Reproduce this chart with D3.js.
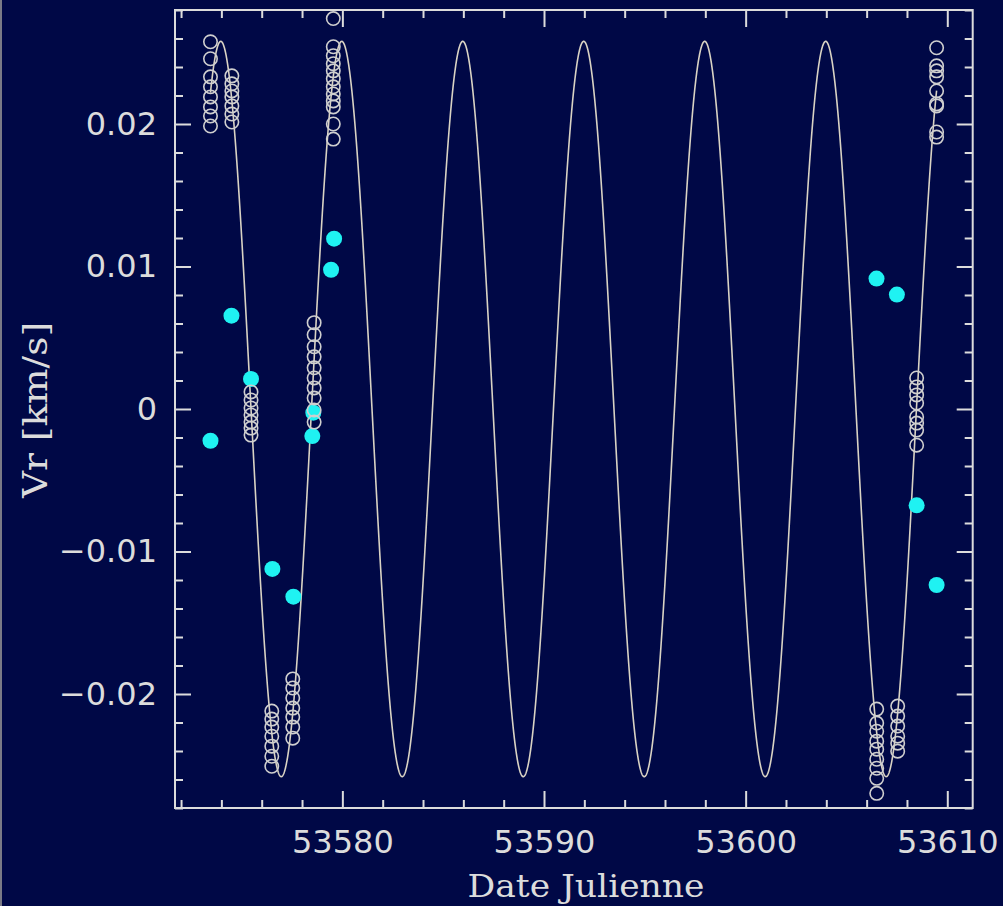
<!DOCTYPE html>
<html>
<head>
<meta charset="utf-8">
<script src="https://cdn.jsdelivr.net/npm/d3@7"></script>
<style>
  html, body { margin: 0; padding: 0; background: #000846; }
  svg { display: block; }
</style>
</head>
<body>
<svg id="chart" width="1003" height="906"></svg>
<script>
// ---- Data ----
// Open circles: observed radial velocities, one array of dates and one of values
const obsDates = [
  53573.46,53573.46,53573.46,53573.46,53573.46,53573.46,53573.46,53573.46,
  53574.52,53574.52,53574.52,53574.52,53574.52,53574.52,53574.52,
  53575.47,53575.47,53575.47,53575.47,53575.47,53575.47,53575.47,
  53576.50,53576.50,53576.50,53576.50,53576.50,53576.50,53576.50,
  53577.54,53577.54,53577.54,53577.54,53577.54,53577.54,53577.54,
  53578.60,53578.60,53578.60,53578.60,53578.60,53578.60,53578.60,53578.60,53578.60,53578.60,
  53579.55,53579.55,53579.55,53579.55,53579.55,53579.55,53579.55,53579.55,53579.55,53579.55,53579.55,53579.55,
  53606.50,53606.50,53606.50,53606.50,53606.50,53606.50,53606.50,53606.50,53606.50,
  53607.54,53607.54,53607.54,53607.54,53607.54,53607.54,
  53608.48,53608.48,53608.48,53608.48,53608.48,53608.48,53608.48,53608.48,
  53609.47,53609.47,53609.47,53609.47,53609.47,53609.47,53609.47,53609.47,53609.47
];
const obsVr = [
  0.02577,0.02458,0.02331,0.02261,0.02190,0.02120,0.02056,0.01986,
  0.02338,0.02282,0.02232,0.02190,0.02127,0.02070,0.02014,
  0.00120,0.00063,0.00007,-0.00042,-0.00092,-0.00134,-0.00183,
  -0.02120,-0.02176,-0.02232,-0.02296,-0.02366,-0.02437,-0.02507,
  -0.01894,-0.01958,-0.02028,-0.02099,-0.02162,-0.02232,-0.02310,
  0.00606,0.00521,0.00437,0.00366,0.00289,0.00218,0.00148,0.00077,-0.00007,-0.00092,
  0.02740,0.02542,0.02479,0.02423,0.02373,0.02317,0.02261,0.02211,0.02162,0.02120,0.02000,0.01894,
  -0.02106,-0.02204,-0.02261,-0.02331,-0.02387,-0.02458,-0.02521,-0.02592,-0.02697,
  -0.02085,-0.02155,-0.02225,-0.02296,-0.02345,-0.02401,
  0.00218,0.00155,0.00099,0.00042,-0.00056,-0.00099,-0.00148,-0.00254,
  0.02535,0.02408,0.02373,0.02331,0.02232,0.02141,0.02127,0.01944,0.01908
];
// Filled cyan points
const cyanDates = [53573.46,53574.50,53575.47,53576.53,53577.57,53578.56,53578.51,53579.59,53579.44,53606.49,53607.50,53608.48,53609.47];
const cyanVr    = [-0.00223,0.00655,0.00211,-0.01122,-0.01317,-0.00026,-0.00190,0.01195,0.00977,0.00915,0.00803,-0.00676,-0.01235];

// Fitted model curve parameters (sinusoid), drawn over the observed date span
const modelPeriod = 6.0;
const modelAmplitude = 0.0258;
const modelPeakDate = 53579.97;

// Axis ticks and labels
const xMajorTicks = [53580, 53590, 53600, 53610];
const xTickLabels = ["53580", "53590", "53600", "53610"];
const yMajorTicks = [-0.02, -0.01, 0, 0.01, 0.02];
const yTickLabels = ["\u22120.02", "\u22120.01", "0", "0.01", "0.02"];
const xTitle = "Date Julienne";
const yTitle = "Vr [km/s]";

// ---- Drawing ----
const svg = d3.select("#chart");
const W = 1003, H = 906;
const L = 175, R = 972.7, T = 10, B = 808;
const fg = "#dcdcdc";

svg.append("rect").attr("width", W).attr("height", H).attr("fill", "#000846");
svg.append("line").attr("x1", 1).attr("x2", 1).attr("y1", 0).attr("y2", H)
  .attr("stroke", "#7a7a86").attr("stroke-width", 2);

const x = d3.scaleLinear().domain([53571.70, 53611.26]).range([L, R]);
const y = d3.scaleLinear().domain([-0.028, 0.028]).range([B, T]);

const xMinor = d3.range(53572, 53611, 2).filter(v => xMajorTicks.indexOf(v) < 0);
const yMinor = d3.range(-14, 15).map(i => i * 0.002)
  .filter(v => !yMajorTicks.some(m => Math.abs(m - v) < 1e-9));

function styleAxis(g) {
  g.select(".domain").remove();
  g.selectAll("line").attr("stroke", fg).attr("stroke-width", 2);
  g.selectAll("text").attr("fill", fg)
    .attr("font-family", "DejaVu Sans, sans-serif").attr("font-size", 32);
}

// bottom
svg.append("g").attr("transform", `translate(0,${B})`)
  .call(d3.axisBottom(x).tickValues(xMajorTicks).tickSize(-17).tickPadding(22)
    .tickFormat((d, i) => xTickLabels[i])).call(styleAxis);
svg.append("g").attr("transform", `translate(0,${B})`)
  .call(d3.axisBottom(x).tickValues(xMinor).tickSize(-8).tickFormat("")).call(styleAxis);
// top
svg.append("g").attr("transform", `translate(0,${T})`)
  .call(d3.axisTop(x).tickValues(xMajorTicks).tickSize(-17).tickFormat("")).call(styleAxis);
svg.append("g").attr("transform", `translate(0,${T})`)
  .call(d3.axisTop(x).tickValues(xMinor).tickSize(-8).tickFormat("")).call(styleAxis);
// left
svg.append("g").attr("transform", `translate(${L},0)`)
  .call(d3.axisLeft(y).tickValues(yMajorTicks).tickSize(-16).tickPadding(18)
    .tickFormat((d, i) => yTickLabels[i])).call(styleAxis);
svg.append("g").attr("transform", `translate(${L},0)`)
  .call(d3.axisLeft(y).tickValues(yMinor).tickSize(-8).tickFormat("")).call(styleAxis);
// right
svg.append("g").attr("transform", `translate(${R},0)`)
  .call(d3.axisRight(y).tickValues(yMajorTicks).tickSize(-16).tickFormat("")).call(styleAxis);
svg.append("g").attr("transform", `translate(${R},0)`)
  .call(d3.axisRight(y).tickValues(yMinor).tickSize(-8).tickFormat("")).call(styleAxis);

// frame
svg.append("rect").attr("x", L).attr("y", T).attr("width", R - L).attr("height", B - T)
  .attr("fill", "none").attr("stroke", fg).attr("stroke-width", 2);

// model curve over the span of the observations
const [d0, d1] = d3.extent(obsDates);
const samples = 3000;
const curvePts = d3.range(samples + 1).map(i => {
  const t = d0 + (d1 - d0) * i / samples;
  return [t, modelAmplitude * Math.cos(2 * Math.PI * (t - modelPeakDate) / modelPeriod)];
});
svg.append("path").datum(curvePts)
  .attr("d", d3.line().x(d => x(d[0])).y(d => y(d[1])))
  .attr("fill", "none").attr("stroke", "#d9d3c4").attr("stroke-width", 1.6);

// cyan filled points
svg.append("g").selectAll("circle").data(cyanDates).join("circle")
  .attr("cx", d => x(d)).attr("cy", (d, i) => y(cyanVr[i])).attr("r", 8)
  .attr("fill", "#1ff2f2");

// open circles
svg.append("g").selectAll("circle").data(obsDates).join("circle")
  .attr("cx", d => x(d)).attr("cy", (d, i) => y(obsVr[i])).attr("r", 6.7)
  .attr("fill", "none").attr("stroke", "#cfcfcf").attr("stroke-width", 1.6);

// axis titles
svg.append("text").attr("x", 586).attr("y", 897).attr("text-anchor", "middle")
  .attr("fill", fg).attr("font-family", "DejaVu Serif, serif").attr("font-size", 32)
  .attr("textLength", 237).attr("lengthAdjust", "spacingAndGlyphs").text(xTitle);
svg.append("text").attr("transform", "translate(47,410) rotate(-90)").attr("text-anchor", "middle")
  .attr("fill", fg).attr("font-family", "DejaVu Serif, serif").attr("font-size", 34)
  .attr("textLength", 176).attr("lengthAdjust", "spacingAndGlyphs").text(yTitle);
</script>
</body>
</html>
